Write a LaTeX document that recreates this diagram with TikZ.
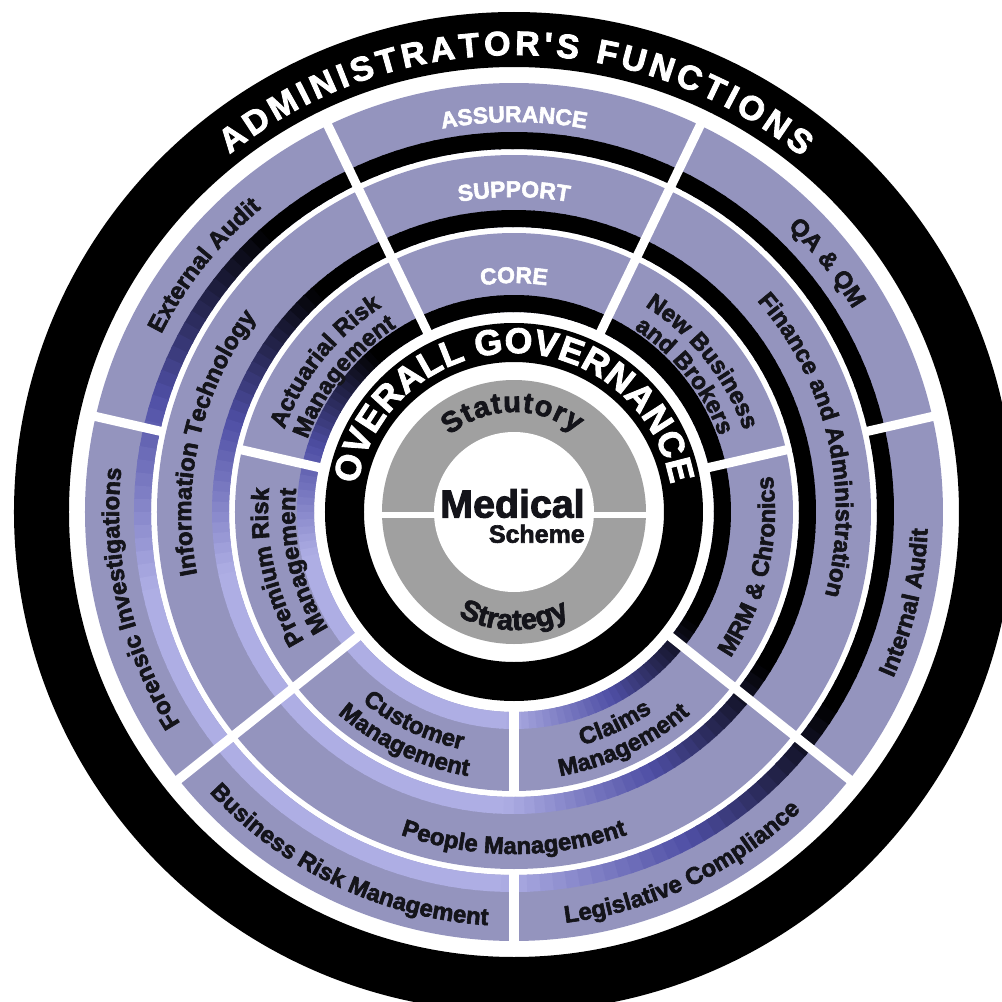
\documentclass[tikz,border=0pt]{standalone}
\usepackage{fontspec}
\setmainfont{Liberation Sans}[BoldFeatures={FakeBold=2.5}]
\usetikzlibrary{decorations.text,positioning}

\definecolor{segfill}{RGB}{148,148,190}
\definecolor{bandlight}{RGB}{174,174,228}
\definecolor{bandmid}{RGB}{78,78,164}
\definecolor{hubgray}{RGB}{160,160,160}
\definecolor{inkdark}{RGB}{20,20,26}

\newcommand{\lblfont}{\fontsize{13.6}{16}\selectfont\bfseries}
\newcommand{\tierfont}{\fontsize{13}{15}\selectfont\bfseries}
\newcommand{\rimfont}{\fontsize{19.3}{22}\selectfont\bfseries}
\newcommand{\govfont}{\fontsize{20.3}{23}\selectfont\bfseries}
\newcommand{\hubfont}{\fontsize{16.5}{19}\selectfont\bfseries}

% text on an arc: [align]{radius}{from}{to}{font}{colour}{text}
\newcommand{\arclabel}[7][center]{%
  \path[decorate, decoration={text along path, text align={#1},
      text color=#6, text={|#5|#7}}]
    (#3:#2) arc[start angle=#3, end angle=#4, radius=#2];}

\begin{document}
\begin{tikzpicture}[
    x=0.02cm, y=0.02cm,
    divider/.style={draw=white, line width=5.2pt},
    ring/.style={fill=segfill, even odd rule}
]
\useasboundingbox (-514,-490) rectangle (488,512);
\clip (-514,-490) rectangle (488,512);
\coordinate (hub) at (0,0);

% outer rim
\fill[black, even odd rule] (hub) circle[radius=500] (hub) circle[radius=445];

% the three rings of functions
\fill[ring] (hub) circle[radius=279] (hub) circle[radius=200];
\fill[ring] (hub) circle[radius=357] (hub) circle[radius=285];
\fill[ring] (hub) circle[radius=429] (hub) circle[radius=363];

% inner band of each ring, lit from the lower left
\foreach \a in {0,2,...,358} {
  \pgfmathsetmacro{\dist}{abs(mod(\a+311,360)-180)}
  \pgfmathsetmacro{\shade}{min(1,max(0,(\dist-38)/60))}
  \pgfmathtruncatemacro{\mixlo}{min(100,200*\shade)}
  \pgfmathtruncatemacro{\mixhi}{max(0,200*\shade-100)}
  \colorlet{darktone}{black!\mixhi!bandmid}
  \colorlet{bandtone}{darktone!\mixlo!bandlight}
  \pgfmathsetmacro{\aend}{\a+2.4}
  \fill[bandtone]
    (\a:200) arc[start angle=\a, end angle=\aend, radius=200] -- (\aend:217) arc[start angle=\aend, end angle=\a, radius=217] -- cycle
    (\a:285) arc[start angle=\a, end angle=\aend, radius=285] -- (\aend:302) arc[start angle=\aend, end angle=\a, radius=302] -- cycle
    (\a:363) arc[start angle=\a, end angle=\aend, radius=363] -- (\aend:380) arc[start angle=\aend, end angle=\a, radius=380] -- cycle;
}

% dividers
\foreach \a in {64.29,115.71,218.57,321.43}
  \draw[divider] (\a:190) -- (\a:437);
\foreach \a in {167.14,270,12.86} {
  \draw[divider] (\a:190) -- (\a:282);
  \draw[divider] (\a:360) -- (\a:437);
}

% governance ring and hub
\fill[black, even odd rule] (hub) circle[radius=189] (hub) circle[radius=150];
\fill[hubgray] (hub) circle[radius=132];
\fill[white] (hub) circle[radius=80];
\fill[white] (-134,-6) rectangle (134,0);

\node[font=\fontsize{22.4}{24}\selectfont\bfseries, text=inkdark, inner sep=0pt] (medical) at (-1.5,8.5) {Medical};
\node[font=\fontsize{14.2}{16}\selectfont\bfseries, text=inkdark, inner sep=0pt,
      below=3.4pt of medical.south east, anchor=north east] (scheme) {Scheme};

\arclabel[fit to path]{100}{130}{52}{\hubfont}{inkdark}{Statutory}
\arclabel{118}{230}{310}{\hubfont}{inkdark}{Strategy}
\arclabel[fit to path]{159}{170}{10}{\govfont}{white}{OVERALL GOVERNANCE}
\arclabel[fit to path]{457}{128.5}{51}{\rimfont}{white}{ADMINISTRATOR{\textquotesingle}S FUNCTIONS}

% core ring
\arclabel{229}{112}{68}{\tierfont}{white}{CORE}
\arclabel{244}{165}{118}{\lblfont}{inkdark}{Actuarial Risk}
\arclabel{219}{165}{118}{\lblfont}{inkdark}{Management}
\arclabel{246}{216}{170}{\lblfont}{inkdark}{Premium Risk}
\arclabel{219}{216}{170}{\lblfont}{inkdark}{Management}
\arclabel{243}{221}{268}{\lblfont}{inkdark}{Customer}
\arclabel{268}{221}{268}{\lblfont}{inkdark}{Management}
\arclabel{243}{272}{319}{\lblfont}{inkdark}{Claims}
\arclabel{268}{272}{319}{\lblfont}{inkdark}{Management}
\arclabel{261}{324}{370}{\lblfont}{inkdark}{MRM {\&} Chronics}
\arclabel{244}{62}{15}{\lblfont}{inkdark}{New Business}
\arclabel{219}{62}{15}{\lblfont}{inkdark}{and Brokers}

% support ring
\arclabel{315}{112}{68}{\tierfont}{white}{SUPPORT}
\arclabel{323}{216}{118}{\lblfont}{inkdark}{Information Technology}
\arclabel{342}{221}{319}{\lblfont}{inkdark}{People Management}
\arclabel{322}{62}{-36}{\lblfont}{inkdark}{Finance and Administration}

% assurance ring
\arclabel{390}{112}{68}{\tierfont}{white}{ASSURANCE}
\arclabel{395}{165}{118}{\lblfont}{inkdark}{External Audit}
\arclabel{395}{216}{170}{\lblfont}{inkdark}{Forensic Investigations}
\arclabel{414}{221}{268}{\lblfont}{inkdark}{Business Risk Management}
\arclabel{414}{272}{319}{\lblfont}{inkdark}{Legislative Compliance}
\arclabel{414}{324}{370}{\lblfont}{inkdark}{Internal Audit}
\arclabel{395}{62}{15}{\lblfont}{inkdark}{QA {\&} QM}
\end{tikzpicture}
\end{document}
